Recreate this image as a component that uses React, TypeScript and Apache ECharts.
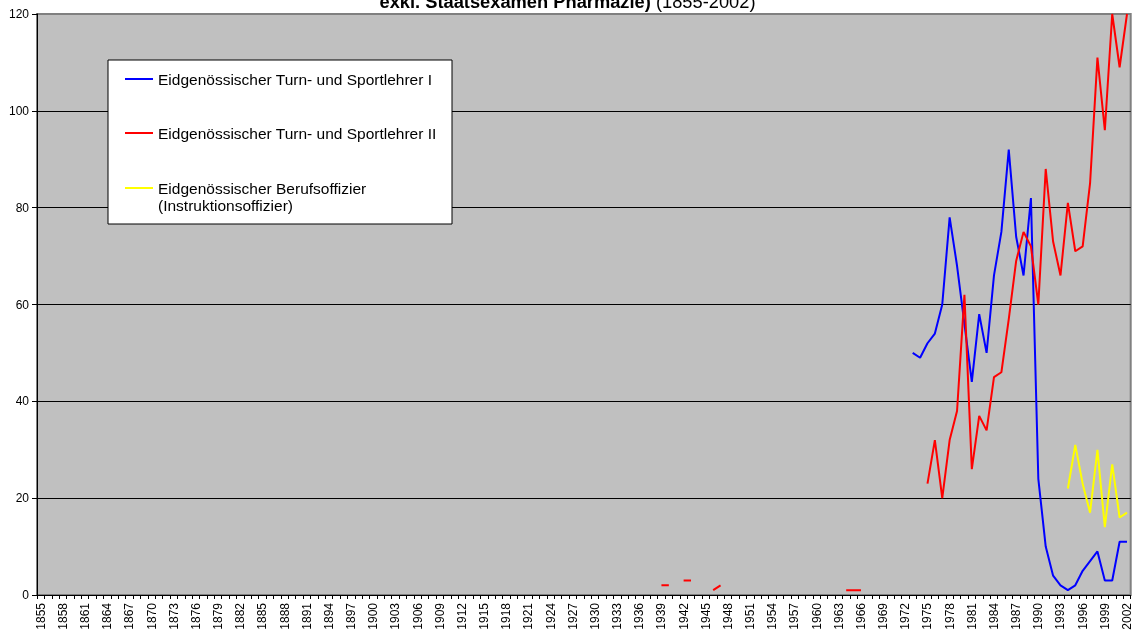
import React, { useEffect, useRef } from "react";
import * as echarts from "echarts";

const firstYear = 1855;
const lastYear = 2002;

const titleBold = "exkl. Staatsexamen Pharmazie)";
const titleNormal = " (1855-2002)";

const seriesNames = [
  "Eidgenössischer Turn- und Sportlehrer I",
  "Eidgenössischer Turn- und Sportlehrer II",
  "Eidgenössischer Berufsoffizier\n(Instruktionsoffizier)",
];
const seriesColors = ["#0000FF", "#FF0000", "#FFFF00"];

// Sportlehrer I (from 1973)
const blueStart = 1973;
const blueValues = [50, 49, 52, 54, 60, 78, 68, 56, 44, 58, 50, 66, 75, 92, 74, 66, 82, 24, 10, 4, 2, 1, 2, 5, 7, 9, 3, 3, 11, 11];

// Sportlehrer II (segments)
const redSeg1Start = 1939;
const redSeg1 = [2, 2];
const redSeg2Start = 1942;
const redSeg2 = [3, 3];
const redSeg3Start = 1946;
const redSeg3 = [1, 2];
const redSeg4Start = 1964;
const redSeg4 = [1, 1, 1];
const redSeg5Start = 1975;
const redSeg5 = [23, 32, 20, 32, 38, 62, 26, 37, 34, 45, 46, 57, 69, 75, 72, 60, 88, 73, 66, 81, 71, 72, 85, 111, 96, 120, 109, 120];

// Berufsoffizier (from 1994)
const yellowStart = 1994;
const yellowValues = [22, 31, 23, 17, 30, 14, 27, 16, 17];

const yMin = 0;
const yMax = 120;
const yInterval = 20;

const years: string[] = [];
for (let y = firstYear; y <= lastYear; y++) years.push(String(y));

function place(segments: [number, number[]][]): (number | null)[] {
  const out: (number | null)[] = years.map(() => null);
  segments.forEach(([start, vals]) => {
    vals.forEach((v, i) => {
      out[start - firstYear + i] = v;
    });
  });
  return out;
}

const blueData = place([[blueStart, blueValues]]);
const redData = place([
  [redSeg1Start, redSeg1],
  [redSeg2Start, redSeg2],
  [redSeg3Start, redSeg3],
  [redSeg4Start, redSeg4],
  [redSeg5Start, redSeg5],
]);
const yellowData = place([[yellowStart, yellowValues]]);

const FONT = "'Liberation Sans', Arial, sans-serif";

export default function App() {
  const ref = useRef<HTMLDivElement>(null);
  useEffect(() => {
    if (!ref.current) return;
    const chart = echarts.init(ref.current, null, { renderer: "svg" });
    const legendItems: any[] = [];
    const itemYs = [79, 133, 188];
    seriesNames.forEach((name, i) => {
      legendItems.push({
        type: "line",
        shape: { x1: 125, y1: itemYs[i], x2: 153, y2: itemYs[i] },
        style: { stroke: seriesColors[i], lineWidth: 2 },
        z: 101,
      });
      legendItems.push({
        type: "text",
        x: 158,
        y: itemYs[i],
        style: {
          text: name,
          fontFamily: FONT,
          fontSize: 15.5,
          fill: "#000",
          align: "left",
          verticalAlign: "middle",
          lineHeight: 17,
        },
        z: 101,
      });
    });
    // the third item is two lines; shift so the first line aligns with icon
    legendItems[5].y = itemYs[2] + 8.5;

    chart.setOption({
      animation: false,
      grid: {
        left: 37,
        right: 2,
        top: 14,
        bottom: 39,
        show: true,
        backgroundColor: "#C0C0C0",
        borderColor: "#808080",
        borderWidth: 2,
      },
      xAxis: {
        type: "category",
        data: years,
        boundaryGap: true,
        axisLine: { show: true, lineStyle: { color: "#000", width: 1 } },
        axisTick: { show: true, interval: 0, length: 4, lineStyle: { color: "#000" } },
        axisLabel: {
          interval: 2,
          rotate: 90,
          fontSize: 12,
          fontFamily: FONT,
          color: "#000",
          margin: 8,
        },
        splitLine: { show: false },
      },
      yAxis: {
        type: "value",
        min: yMin,
        max: yMax,
        interval: yInterval,
        axisLine: { show: true, lineStyle: { color: "#000", width: 1 } },
        axisTick: { show: true, length: 5, lineStyle: { color: "#000" } },
        axisLabel: { fontSize: 12, fontFamily: FONT, color: "#000", margin: 8 },
        splitLine: { show: true, showMaxLine: false, lineStyle: { color: "#000", width: 1 } },
      },
      series: [
        { name: seriesNames[0], type: "line", data: blueData },
        { name: seriesNames[1], type: "line", data: redData },
        { name: seriesNames[2], type: "line", data: yellowData },
      ].map((s, i) => ({
        ...s,
        symbol: "none",
        connectNulls: false,
        lineStyle: { color: seriesColors[i], width: 2 },
        itemStyle: { color: seriesColors[i] },
      })),
      graphic: [
        {
          type: "text",
          x: 567.5,
          y: 1.5,
          style: {
            text: `{b|${titleBold}}{n|${titleNormal}}`,
            align: "center",
            verticalAlign: "middle",
            fill: "#000",
            rich: {
              b: { fontFamily: FONT, fontSize: 18.3, fontWeight: "bold", fill: "#000" },
              n: { fontFamily: FONT, fontSize: 18.3, fontWeight: "normal", fill: "#000" },
            },
          },
          z: 100,
        },
        {
          type: "rect",
          shape: { x: 108, y: 60, width: 344, height: 164 },
          style: { fill: "#FFFFFF", stroke: "#000", lineWidth: 1 },
          z: 100,
        },
        ...legendItems,
      ],
    });
    return () => chart.dispose();
  }, []);
  return (
    <div
      ref={ref}
      style={{ position: "fixed", left: 0, top: 0, width: 1133, height: 634 }}
    />
  );
}
